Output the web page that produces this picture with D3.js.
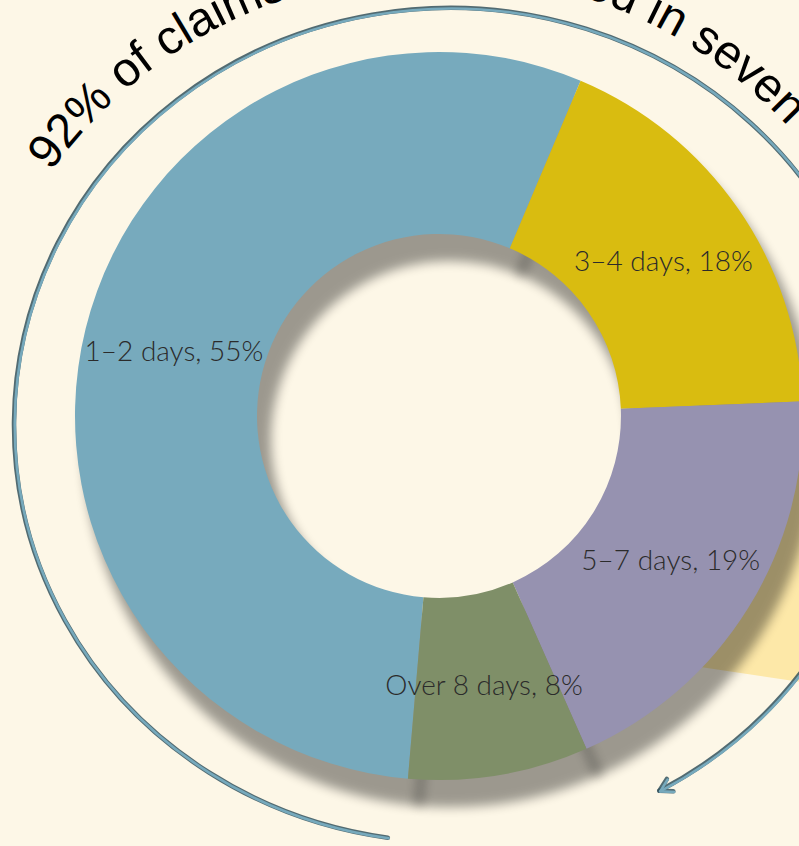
<!DOCTYPE html>
<html>
<head>
<meta charset="utf-8">
<script src="https://cdn.jsdelivr.net/npm/d3@7"></script>
<style>
  body { margin: 0; background: #fdf7e7; }
  svg { display: block; }
</style>
</head>
<body>
<script>
// data
var categories = ["1–2 days", "3–4 days", "5–7 days", "Over 8 days"];
var shares = [55, 18, 19, 8];
var colors = ["#77aabd", "#d9bc10", "#9692b0", "#7f8f68"];
var headline = "92% of claims were processed in seven days";

var width = 799, height = 846;
var cx = 439, cy = 416, outerR = 364, innerR = 182;
var deg = Math.PI / 180;

var svg = d3.select("body").append("svg")
    .attr("width", width)
    .attr("height", height);

svg.append("rect")
    .attr("width", width)
    .attr("height", height)
    .attr("fill", "#fdf7e7");

var defs = svg.append("defs");
defs.append("filter")
    .attr("id", "blur")
    .attr("x", "-20%").attr("y", "-20%")
    .attr("width", "140%").attr("height", "140%")
    .append("feGaussianBlur")
    .attr("stdDeviation", 5.5);

// pale yellow piece peeking from behind the ring
var piece = d3.arc()
    .innerRadius(0)
    .outerRadius(330)
    .startAngle(30 * deg)
    .endAngle(98.5 * deg);

svg.append("path")
    .attr("transform", "translate(560,646)")
    .attr("d", piece())
    .attr("fill", "#fde8a8");

// sweeping arrow round the chart (ellipse)
var ex = 450, ey = 425, erx = 436, ery = 417;
var t0 = 98.2 * deg, t1 = 61.3 * deg;
var p0 = [ex + erx * Math.cos(t0), ey + ery * Math.sin(t0)];
var p1 = [ex + erx * Math.cos(t1), ey + ery * Math.sin(t1)];
var sweepPath = "M" + p0[0] + "," + p0[1] +
    " A" + erx + "," + ery + " 0 1 1 " + p1[0] + "," + p1[1];

// arrow head direction = tangent at t1 going clockwise
var tx = -erx * Math.sin(t1), ty = ery * Math.cos(t1);
var tl = Math.sqrt(tx * tx + ty * ty);
tx /= tl; ty /= tl;
var headLen = 14, headAng = 30 * deg;
function barb(sign) {
    var a = Math.atan2(-ty, -tx) + sign * headAng;
    return [p1[0] + headLen * Math.cos(a), p1[1] + headLen * Math.sin(a)];
}
var b1 = barb(1), b2 = barb(-1);
var headPath = "M" + b1[0] + "," + b1[1] + " L" + p1[0] + "," + p1[1] + " L" + b2[0] + "," + b2[1];

var arrow = svg.append("g").attr("fill", "none").attr("stroke-linecap", "round").attr("stroke-linejoin", "round");
arrow.append("path").attr("d", sweepPath).attr("stroke", "#34525d").attr("stroke-width", 4.5).attr("opacity", 0.85);
arrow.append("path").attr("d", headPath).attr("stroke", "#34525d").attr("stroke-width", 4.5).attr("opacity", 0.85);
arrow.append("path").attr("d", sweepPath).attr("stroke", "#76a9bc").attr("stroke-width", 2.6)
    .attr("transform", "translate(0.8,0.6)");
arrow.append("path").attr("d", headPath).attr("stroke", "#76a9bc").attr("stroke-width", 2.6)
    .attr("transform", "translate(0.8,0.6)");

// donut
var pie = d3.pie()
    .sort(null)
    .value(function(d) { return d; })
    .startAngle(184.9 * deg)
    .endAngle(184.9 * deg + 2 * Math.PI);

var arc = d3.arc()
    .innerRadius(innerR)
    .outerRadius(outerR);

var slices = pie(shares);

var shadow = svg.append("g")
    .attr("transform", "translate(" + (cx + 11) + "," + (cy + 24) + ")");

shadow.selectAll("path")
    .data(slices)
    .enter()
    .append("path")
    .attr("d", arc)
    .attr("fill", "#000")
    .attr("stroke", "#000")
    .attr("stroke-width", 6)
    .attr("stroke-linejoin", "round")
    .attr("filter", "url(#blur)")
    .attr("opacity", 0.38);

var ring = svg.append("g")
    .attr("transform", "translate(" + cx + "," + cy + ")");

ring.selectAll("path")
    .data(slices)
    .enter()
    .append("path")
    .attr("d", arc)
    .attr("fill", function(d, i) { return colors[i]; });

ring.selectAll("text")
    .data(slices)
    .enter()
    .append("text")
    .attr("transform", function(d) { return "translate(" + arc.centroid(d) + ")"; })
    .attr("dy", "0.36em")
    .attr("text-anchor", "middle")
    .attr("font-family", "Lato, 'Open Sans', sans-serif")
    .attr("font-weight", 300)
    .attr("font-size", 28)
    .attr("fill", "#2b2b2b")
    .text(function(d, i) { return categories[i] + ", " + d.data + "%"; });

// headline along a circle
var hx = 438, hy = 452, hr = 478;
var circlePath = "M" + (hx - hr) + "," + hy +
    " A" + hr + "," + hr + " 0 1 1 " + (hx + hr) + "," + hy +
    " A" + hr + "," + hr + " 0 1 1 " + (hx - hr) + "," + hy;
defs.append("path").attr("id", "headline-path").attr("d", circlePath);

svg.append("text")
    .attr("font-family", "'Liberation Sans', Arial, sans-serif")
    .attr("font-size", 48)
    .attr("fill", "#000")
    .append("textPath")
    .attr("href", "#headline-path")
    .attr("startOffset", hr * 35.9 * deg)
    .text(headline);
</script>
</body>
</html>
